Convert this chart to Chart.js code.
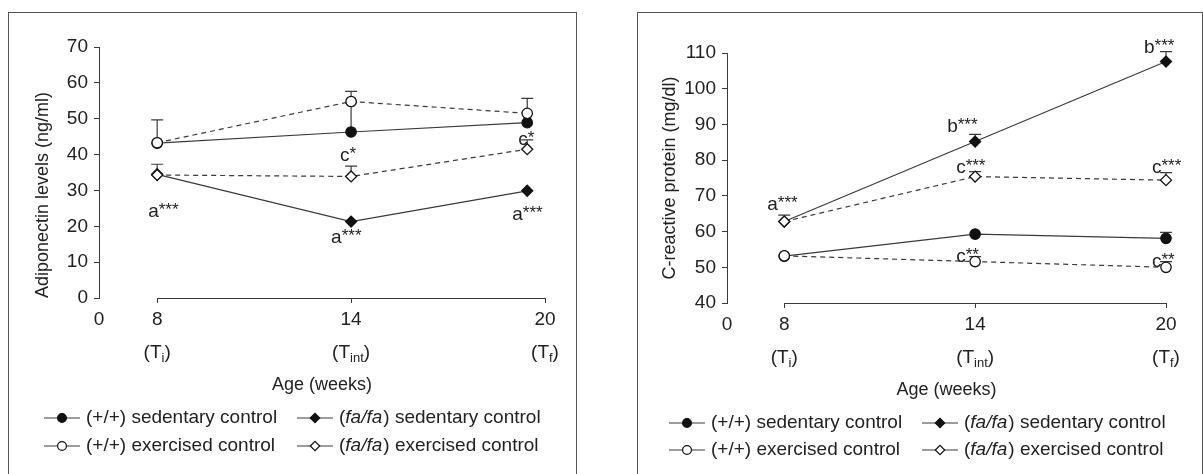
<!DOCTYPE html>
<html>
<head>
<meta charset="utf-8">
<script src="https://cdn.jsdelivr.net/npm/chart.js@4.4.1/dist/chart.umd.min.js"></script>
<style>
  html, body { margin: 0; padding: 0; background: #fff; }
  body { width: 1203px; height: 474px; position: relative; overflow: hidden; }
  .panel { position: absolute; top: 12px; height: 520px; border: 1px solid #555; box-sizing: border-box; }
  #panelA { left: 8px; width: 569px; }
  #panelB { left: 637px; width: 566px; }
  canvas { position: absolute; top: 0; }
  #adipo { left: 0; }
  #crp { left: 600px; }
</style>
</head>
<body>
<div class="panel" id="panelA"></div>
<div class="panel" id="panelB"></div>
<canvas id="adipo" width="600" height="474"></canvas>
<canvas id="crp" width="603" height="474"></canvas>
<script>
// ---------- data ----------
const xTickValues = [8, 14, 20];
const xTickSubs = ['i', 'int', 'f'];
const legendNames = ['(+/+) sedentary control', '(fa/fa) sedentary control',
                     '(+/+) exercised control', '(fa/fa) exercised control'];

// adiponectin (ng/ml)
const adipoWeeks = [8, 14, 19.45];
const adipoWtSed = [43.2, 46.3, 48.9];
const adipoWtSedErr = [null, 54.5, null];
const adipoFaSed = [34.5, 21.3, 29.9];
const adipoFaSedErr = [null, null, null];
const adipoWtEx = [43.3, 54.8, 51.5];
const adipoWtExErr = [49.7, 57.6, 55.7];
const adipoFaEx = [34.3, 33.9, 41.5];
const adipoFaExErr = [37.3, 36.8, 44.1];
const adipoYTicks = [0, 70, 10];

// C-reactive protein (mg/dl)
const crpWeeks = [8, 14, 20];
const crpWtSed = [53.1, 59.3, 58.1];
const crpWtSedErr = [null, null, 59.8];
const crpFaSed = [62.8, 85.2, 107.6];
const crpFaSedErr = [null, 87.2, 110.4];
const crpWtEx = [53.2, 51.6, 50.0];
const crpWtExErr = [null, 53.0, 51.6];
const crpFaEx = [62.8, 75.4, 74.4];
const crpFaExErr = [64.6, 76.8, 76.5];
const crpYTicks = [40, 110, 10];

// ---------- styles ----------
const FONT = '"Liberation Sans", Arial, sans-serif';
const FS = 19;
const INK = '#3a3a3a';
const X_MIN = 6.2;

Chart.defaults.font.family = FONT;
Chart.defaults.font.size = FS;
Chart.defaults.color = '#222';

const seriesStyle = {
  wtSed: { pointStyle: 'circle', r: 5.2, fill: '#111', dash: [] },
  faSed: { pointStyle: 'rectRot', r: 5.5, fill: '#111', dash: [] },
  wtEx:  { pointStyle: 'circle', r: 5.2, fill: '#fff', dash: [5, 4] },
  faEx:  { pointStyle: 'rectRot', r: 5.5, fill: '#fff', dash: [5, 4] }
};
const legendOrder = ['wtSed', 'faSed', 'wtEx', 'faEx'];

function ds(key, weeks, values, label) {
  const st = seriesStyle[key];
  return {
    key, label,
    data: weeks.map((w, i) => ({ x: w, y: values[i] })),
    borderColor: INK, borderWidth: 1.2, borderDash: st.dash,
    pointStyle: st.pointStyle, pointRadius: st.r, pointBorderWidth: 1.3,
    pointBackgroundColor: st.fill, pointBorderColor: '#111',
    tension: 0, clip: false
  };
}

function starLabel(ctx, x, base, letter, stars) {
  ctx.textAlign = 'left';
  ctx.textBaseline = 'alphabetic';
  ctx.font = FS + 'px ' + FONT;
  ctx.fillText(letter, x, base);
  const w = ctx.measureText(letter).width;
  ctx.font = '17px ' + FONT;
  ctx.fillText(stars, x + w, base - 2);
}

function makeChart(id, cfg) {
  const extras = {
    id: 'extras_' + id,
    beforeDatasetsDraw(chart) {
      const ctx = chart.ctx;
      ctx.save();
      ctx.strokeStyle = INK; ctx.lineWidth = 1.2;
      chart.data.datasets.forEach((d, di) => {
        const err = cfg.errs[d.key];
        const pts = chart.getDatasetMeta(di).data;
        err.forEach((e, i) => {
          if (e == null) return;
          const p = pts[i];
          const yTop = chart.scales.y.getPixelForValue(e);
          ctx.beginPath();
          ctx.moveTo(p.x, p.y); ctx.lineTo(p.x, yTop);
          ctx.moveTo(p.x - 6, yTop); ctx.lineTo(p.x + 6, yTop);
          ctx.stroke();
        });
      });
      ctx.restore();
    },
    afterDraw(chart) {
      const ctx = chart.ctx;
      const xs = chart.scales.x;
      const yb = chart.chartArea.bottom;
      ctx.save();
      // broken x-axis line (8 to 20 only)
      ctx.strokeStyle = INK; ctx.lineWidth = 1;
      ctx.beginPath();
      ctx.moveTo(xs.getPixelForValue(xTickValues[0]), yb + 0.5);
      ctx.lineTo(xs.getPixelForValue(xTickValues[xTickValues.length - 1]), yb + 0.5);
      ctx.stroke();
      // (T sub) second line of the x labels
      ctx.fillStyle = '#222';
      xTickValues.forEach((v, i) => {
        const cx = xs.getPixelForValue(v);
        const base = yb + 60;
        ctx.font = FS + 'px ' + FONT;
        const w1 = ctx.measureText('(T').width;
        const w3 = ctx.measureText(')').width;
        ctx.font = '13px ' + FONT;
        const w2 = ctx.measureText(xTickSubs[i]).width;
        let x = cx - (w1 + w2 + w3) / 2;
        ctx.textAlign = 'left'; ctx.textBaseline = 'alphabetic';
        ctx.font = FS + 'px ' + FONT;
        ctx.fillText('(T', x, base);
        ctx.font = '13px ' + FONT;
        ctx.fillText(xTickSubs[i], x + w1, base + 4);
        ctx.font = FS + 'px ' + FONT;
        ctx.fillText(')', x + w1 + w2, base);
      });
      // significance labels
      cfg.notes.forEach(n => {
        const di = chart.data.datasets.findIndex(d => d.key === n.s);
        const p = chart.getDatasetMeta(di).data[n.i];
        starLabel(ctx, p.x + n.dx, p.y + n.dy, n.t, n.st);
      });
      // legend
      legendOrder.forEach((key, k) => {
        const col = k % 2, row = Math.floor(k / 2);
        const x = cfg.legend.cols[col], y = cfg.legend.rows[row];
        const st = seriesStyle[key];
        ctx.strokeStyle = INK; ctx.lineWidth = 1.2; ctx.setLineDash([]);
        ctx.beginPath(); ctx.moveTo(x, y); ctx.lineTo(x + 36, y); ctx.stroke();
        ctx.fillStyle = st.fill; ctx.strokeStyle = '#111';
        Chart.helpers.drawPoint(ctx, { pointStyle: st.pointStyle, radius: st.r - 0.8, borderWidth: 1.2 }, x + 18, y);
        ctx.fillStyle = '#222';
        ctx.textAlign = 'left'; ctx.textBaseline = 'middle';
        const name = legendNames[k];
        let tx = x + 42;
        if (name.startsWith('(fa/fa)')) {
          const parts = [['(', ''], ['fa/fa', 'italic '], [name.slice(6), '']];
          parts.forEach(([t, s]) => {
            ctx.font = s + FS + 'px ' + FONT;
            ctx.fillText(t, tx, y);
            tx += ctx.measureText(t).width + (s ? 1 : 0);
          });
        } else {
          ctx.font = FS + 'px ' + FONT;
          ctx.fillText(name, tx, y);
        }
      });
      ctx.restore();
    }
  };

  return new Chart(document.getElementById(id), {
    type: 'line',
    data: { datasets: cfg.datasets },
    options: {
      responsive: false, animation: false,
      events: [],
      layout: { padding: cfg.padding },
      plugins: { legend: { display: false }, tooltip: { enabled: false } },
      scales: {
        x: {
          type: 'linear', min: X_MIN, max: 20,
          afterBuildTicks: s => { s.ticks = [X_MIN, ...xTickValues].map(v => ({ value: v })); },
          afterFit: s => { s.height = 102; },
          grid: {
            drawOnChartArea: false, tickLength: 5, lineWidth: 1,
            color: c => (c.tick && c.tick.value === X_MIN) ? 'rgba(0,0,0,0)' : INK
          },
          border: { display: false },
          ticks: { padding: 5, autoSkip: false, maxRotation: 0,
                   callback: v => v === X_MIN ? '0' : String(v) },
          title: { display: true, text: 'Age (weeks)', font: { size: 18 }, padding: { top: 0, bottom: 4 } }
        },
        y: {
          min: cfg.yTicks[0], max: cfg.yTicks[1],
          afterFit: s => { s.width = cfg.yWidth; },
          ticks: { stepSize: cfg.yTicks[2], padding: 6 },
          grid: { drawOnChartArea: false, tickLength: 5, color: INK, lineWidth: 1 },
          border: { color: INK, width: 1 },
          title: { display: true, text: cfg.yTitle, align: cfg.yTitleAlign, font: { size: 18 },
                   padding: { top: 4, bottom: 4 } }
        }
      }
    },
    plugins: [extras]
  });
}

makeChart('adipo', {
  datasets: [
    ds('wtEx', adipoWeeks, adipoWtEx, legendNames[2]),
    ds('faEx', adipoWeeks, adipoFaEx, legendNames[3]),
    ds('wtSed', adipoWeeks, adipoWtSed, legendNames[0]),
    ds('faSed', adipoWeeks, adipoFaSed, legendNames[1])
  ],
  errs: { wtSed: adipoWtSedErr, faSed: adipoFaSedErr, wtEx: adipoWtExErr, faEx: adipoFaExErr },
  yTicks: adipoYTicks,
  yTitle: 'Adiponectin levels (ng/ml)',
  yTitleAlign: 'start',
  yWidth: 71,
  padding: { left: 28, top: 47, right: 55, bottom: 474 - 298 - 102 },
  notes: [
    { s: 'faEx', i: 0, t: 'a', st: '***', dx: -9, dy: 42 },
    { s: 'faEx', i: 1, t: 'c', st: '*', dx: -11, dy: -15 },
    { s: 'faSed', i: 1, t: 'a', st: '***', dx: -20, dy: 21 },
    { s: 'faEx', i: 2, t: 'c', st: '*', dx: -9, dy: -4 },
    { s: 'faSed', i: 2, t: 'a', st: '***', dx: -15, dy: 29 }
  ],
  legend: { cols: [44, 297], rows: [418, 446] }
});

makeChart('crp', {
  datasets: [
    ds('wtEx', crpWeeks, crpWtEx, legendNames[2]),
    ds('faEx', crpWeeks, crpFaEx, legendNames[3]),
    ds('wtSed', crpWeeks, crpWtSed, legendNames[0]),
    ds('faSed', crpWeeks, crpFaSed, legendNames[1])
  ],
  errs: { wtSed: crpWtSedErr, faSed: crpFaSedErr, wtEx: crpWtExErr, faEx: crpFaExErr },
  yTicks: crpYTicks,
  yTitle: 'C-reactive protein (mg/dl)',
  yTitleAlign: 'center',
  yWidth: 72,
  padding: { left: 55, top: 53, right: 37, bottom: 474 - 303 - 102 },
  notes: [
    { s: 'faEx', i: 0, t: 'a', st: '***', dx: -17, dy: -12 },
    { s: 'faSed', i: 1, t: 'b', st: '***', dx: -28, dy: -10 },
    { s: 'faEx', i: 1, t: 'c', st: '***', dx: -19, dy: -4 },
    { s: 'wtEx', i: 1, t: 'c', st: '**', dx: -19, dy: 0 },
    { s: 'faSed', i: 2, t: 'b', st: '***', dx: -22, dy: -9 },
    { s: 'faEx', i: 2, t: 'c', st: '***', dx: -14, dy: -7 },
    { s: 'wtEx', i: 2, t: 'c', st: '**', dx: -14, dy: 0 }
  ],
  legend: { cols: [69, 322], rows: [423, 450] }
});
</script>
</body>
</html>
